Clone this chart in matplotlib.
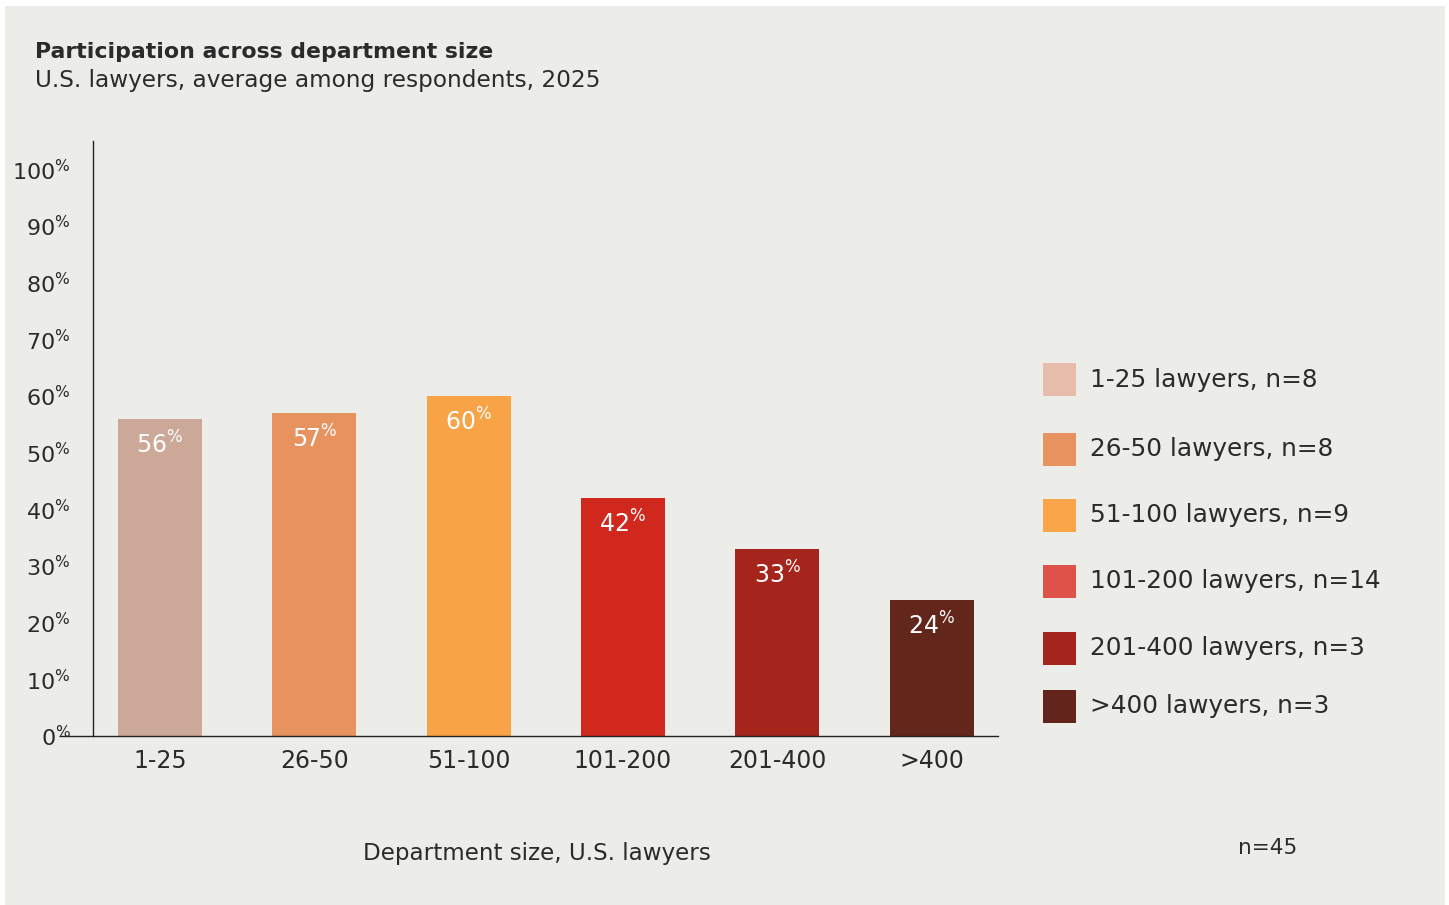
import matplotlib
matplotlib.use("Agg")
import matplotlib.pyplot as plt
from matplotlib.patches import Rectangle

# data
categories = ["1-25", "26-50", "51-100", "101-200", "201-400", ">400"]
values = [56, 57, 60, 42, 33, 24]
legend_labels = ["1-25 lawyers, n=8", "26-50 lawyers, n=8", "51-100 lawyers, n=9",
                 "101-200 lawyers, n=14", "201-400 lawyers, n=3", ">400 lawyers, n=3"]
bar_colors = ["#cca899", "#e69360", "#f9a347", "#d0281c", "#a5241c", "#63261b"]
legend_colors = ["#e8bcab", "#e69360", "#f9a64a", "#dd5249", "#a5241c", "#63241b"]
y_ticks = [0, 10, 20, 30, 40, 50, 60, 70, 80, 90, 100]

BG = "#ecece8"
TXT = "#2b2b2b"
FONT = "DejaVu Sans"

plt.rcParams["font.family"] = FONT
plt.rcParams["mathtext.fontset"] = "custom"
plt.rcParams["mathtext.rm"] = FONT
plt.rcParams["mathtext.it"] = FONT

W, H = 1449, 905
fig = plt.figure(figsize=(W / 100, H / 100), dpi=100, facecolor="white")

def fx(x):
    return x / W

def fy(y):
    return 1 - y / H

# grey panel
fig.add_artist(Rectangle((fx(5), 0), fx(1445) - fx(5), fy(6), transform=fig.transFigure,
                         facecolor=BG, edgecolor="none", zorder=0))

fig.text(fx(35), fy(52), "Participation across department size", fontsize=15.8,
         fontweight="bold", color=TXT, va="center", ha="left")
fig.text(fx(35), fy(81), "U.S. lawyers, average among respondents, 2025", fontsize=16.7,
         color=TXT, va="center", ha="left")

ax = fig.add_axes([fx(60), fy(736), fx(998) - fx(60), fy(141) - fy(736)])
ax.set_facecolor("none")
x = list(range(len(categories)))
ax.bar(x, values, width=0.545, color=bar_colors, zorder=2)
ax.set_xlim(-0.648, 5.43)
ax.set_ylim(0, 105)

for s in ["top", "right"]:
    ax.spines[s].set_visible(False)
ax.spines["left"].set_position(("data", -0.434))
ax.spines["left"].set_color("#222222")
ax.spines["bottom"].set_color("#222222")
ax.spines["left"].set_linewidth(1.0)
ax.spines["bottom"].set_linewidth(1.0)

ax.set_yticks(y_ticks)
ax.set_yticklabels([f"{t}$^{{\\%}}$" for t in y_ticks], fontsize=16, color=TXT)
ax.set_xticks(x)
ax.set_xticklabels(categories, fontsize=17, color=TXT)
ax.tick_params(axis="y", length=0, pad=16)
ax.tick_params(axis="x", length=0, pad=9)

for i, v in enumerate(values):
    ax.annotate(f"{v}$^{{\\%}}$", (i, v), xytext=(0, -19), textcoords="offset points",
                ha="center", va="center", fontsize=17, color="white")

# legend
leg_y = [380, 449, 515, 581, 648, 706]
for lab, col, yy in zip(legend_labels, legend_colors, leg_y):
    fig.add_artist(Rectangle((fx(1043), fy(yy + 16.5)), fx(33), 33 / H,
                             transform=fig.transFigure, facecolor=col, edgecolor="none"))
    fig.text(fx(1090), fy(yy), lab, fontsize=17.8, color=TXT, va="center", ha="left")

fig.text(fx(537), fy(853), "Department size, U.S. lawyers", fontsize=16.6, color=TXT,
         ha="center", va="center")
fig.text(fx(1268), fy(848), "n=45", fontsize=15.5, color=TXT, ha="center", va="center")

fig.savefig("out.png", dpi=100, facecolor="white")
